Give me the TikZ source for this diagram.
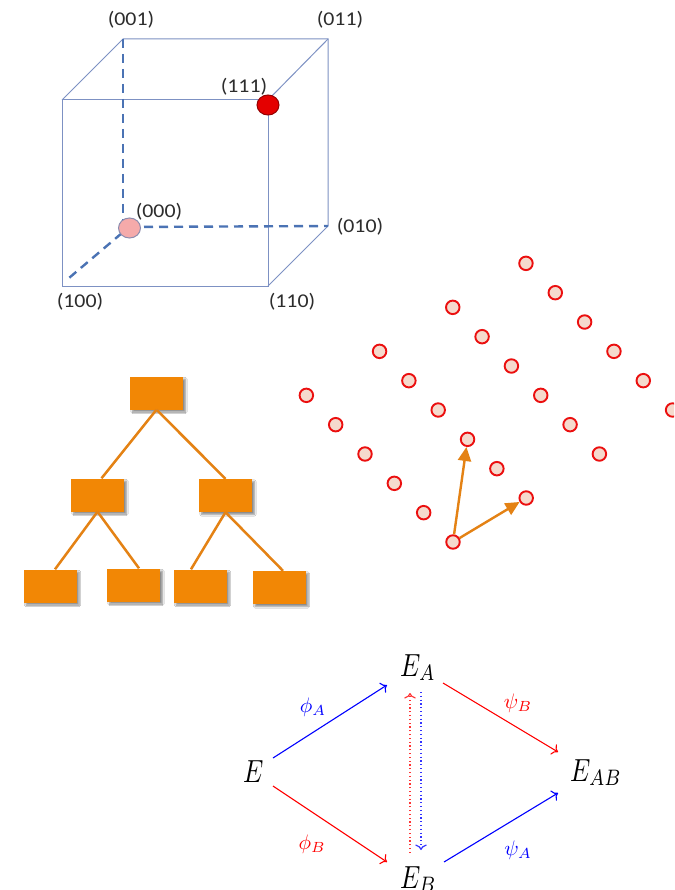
\documentclass[tikz,border=0pt]{standalone}
\usepackage{fontspec}
\usepackage{graphicx}
\newfontfamily\lblfont{Carlito}
\usetikzlibrary{arrows.meta,shapes.geometric,shadows.blur}
\definecolor{edgeblue}{RGB}{125,145,195}
\definecolor{dashblue}{RGB}{75,115,180}
\definecolor{labgray}{RGB}{45,45,45}
\definecolor{boxorange}{RGB}{242,135,5}
\definecolor{lineorange}{RGB}{228,130,20}
\definecolor{dotred}{RGB}{235,15,15}
\definecolor{dotfill}{RGB}{245,218,205}
\definecolor{hotred}{RGB}{228,0,0}
\definecolor{pinkfill}{RGB}{245,170,170}
\definecolor{pinkedge}{RGB}{140,140,175}
\newcommand{\widelbl}[1]{\scalebox{1.12}[1]{#1}}
\newcommand{\cdbigtext}[1]{\scalebox{2.55}[3.2]{#1}}
\newcommand{\cdlabtext}[1]{\scalebox{2.1}[2.1]{#1}}
\tikzset{
 cubeedge/.style={draw=edgeblue, line width=1pt},
 cubedash/.style={draw=dashblue, line width=2.4pt, dash pattern=on 9pt off 6pt},
 cubelabel/.style={text=labgray, font=\lblfont\fontsize{19.5}{22}\selectfont, inner sep=0},
 treebox/.style={fill=boxorange, minimum width=53pt, minimum height=33pt, inner sep=0,
   blur shadow={shadow xshift=2.5pt, shadow yshift=-2.5pt, shadow blur steps=6, shadow opacity=45}},
 treeline/.style={draw=lineorange, line width=2.5pt},
 latdot/.style={circle, draw=dotred, fill=dotfill, line width=1.9pt, minimum size=13.5pt, inner sep=0},
 latarrow/.style={draw=lineorange, line width=2.4pt, -{Triangle[length=14pt,width=13pt]}},
 cdnode/.style={inner sep=0, anchor=base west},
 cdlabel/.style={inner sep=0},
 cdarrow/.style={line width=1.1pt, -{Computer Modern Rightarrow[scale=1.4]}},
 cddot/.style={line width=1.2pt, dash pattern=on 1.2pt off 2.6pt, -{Computer Modern Rightarrow[scale=1.3]}},
}
\begin{document}
\begin{tikzpicture}[x=1pt,y=-1pt]
\useasboundingbox (0,0) rectangle (674,890);
\clip (0,0) rectangle (674,890);
\fill[white] (0,0) rectangle (674,890);

% ---------- cube ----------
\coordinate (ftl) at (62,100);
\coordinate (ftr) at (268,100);
\coordinate (fbl) at (62,286);
\coordinate (fbr) at (268,286);
\coordinate (btl) at (123,39);
\coordinate (btr) at (328,39);
\coordinate (bbr) at (328,226);
\coordinate (bbl) at (123,228);
\coordinate (dend) at (69,278);
\draw[cubeedge] (ftl) -- (ftr) -- (fbr) -- (fbl) -- cycle;
\draw[cubeedge] (ftl) -- (btl) -- (btr) -- (bbr) -- (fbr);
\draw[cubeedge] (ftr) -- (btr);
\draw[cubedash] (btl) -- (bbl);
\draw[cubedash] (129,227) -- (bbr);
\draw[cubedash] (122,233) -- (dend);
\node[ellipse, fill=pinkfill, draw=pinkedge, line width=1pt, minimum width=22pt, minimum height=20pt, inner sep=0] (c000) at (129.5,228) {};
\node[ellipse, fill=hotred, draw=black!35!hotred, line width=1pt, minimum width=22pt, minimum height=20pt, inner sep=0] (c111) at (268,105) {};
\node[cubelabel] (l001) at (131,20) {\widelbl{(001)}};
\node[cubelabel] (l011) at (340,20) {\widelbl{(011)}};
\node[cubelabel] (l111) at (244,87) {\widelbl{(111)}};
\node[cubelabel] (l000) at (159,212) {\widelbl{(000)}};
\node[cubelabel] (l010) at (360,227) {\widelbl{(010)}};
\node[cubelabel] (l100) at (80,302) {\widelbl{(100)}};
\node[cubelabel] (l110) at (292,302) {\widelbl{(110)}};

% ---------- tree ----------
\node[treebox] (root) at (156.5,393) {};
\node[treebox] (ml) at (97.5,495) {};
\node[treebox] (mr) at (225.5,495.5) {};
\node[treebox] (la) at (50,586) {};
\node[treebox] (lb) at (133.5,585) {};
\node[treebox] (lc) at (200,586) {};
\node[treebox] (ld) at (279,587.5) {};
\draw[treeline] (root.south) -- ([xshift=4pt]ml.north);
\draw[treeline] (root.south) -- (mr.north);
\draw[treeline] (ml.south) -- ([xshift=5pt]la.north);
\draw[treeline] (ml.south) -- ([xshift=5.5pt]lb.north);
\draw[treeline] (mr.south) -- ([xshift=-9pt]lc.north);
\draw[treeline] (mr.south) -- ([xshift=4pt]ld.north);

% ---------- lattice ----------
\foreach \i in {0,...,5}{
  \foreach \j in {0,...,3}{
    \node[latdot] (p\i\j) at ({453-29.33*\i+73.2*\j},{542-29.33*\i-44*\j}) {};
  }
}
\draw[latarrow] (p00) -- (p21);
\draw[latarrow] (p00) -- (p01);

% ---------- commutative diagram ----------
\node[cdnode] (E) at (243,782) {\cdbigtext{$E$}};
\node[cdnode] (EA) at (400,676) {\cdbigtext{$E_A$}};
\node[cdnode] (EB) at (400,888) {\cdbigtext{$E_B$}};
\node[cdnode] (EAB) at (570,781) {\cdbigtext{$E_{AB}$}};
\draw[cdarrow, blue] ([shift={(30,-24)}]E.base west) -- ([shift={(-13,9)}]EA.base west);
\draw[cdarrow, red] ([shift={(30,4)}]E.base west) -- ([shift={(-13,-26)}]EB.base west);
\draw[cdarrow, red] ([shift={(43,7)}]EA.base west) -- ([shift={(-12,-29)}]EAB.base west);
\draw[cdarrow, blue] ([shift={(44,-26)}]EB.base west) -- ([shift={(-12,12)}]EAB.base west);
\draw[cddot, red!80] ([shift={(10,-35)}]EB.base west) -- ([shift={(10,17)}]EA.base west);
\draw[cddot, blue!80] ([shift={(21,16)}]EA.base west) -- ([shift={(21,-38)}]EB.base west);
\node[cdlabel, text=blue] (phiA) at (313,707) {\cdlabtext{$\phi_A$}};
\node[cdlabel, text=red] (phiB) at (312,844) {\cdlabtext{$\phi_B$}};
\node[cdlabel, text=red] (psiB) at (518,703) {\cdlabtext{$\psi_B$}};
\node[cdlabel, text=blue] (psiA) at (518,850) {\cdlabtext{$\psi_A$}};
\end{tikzpicture}
\end{document}
